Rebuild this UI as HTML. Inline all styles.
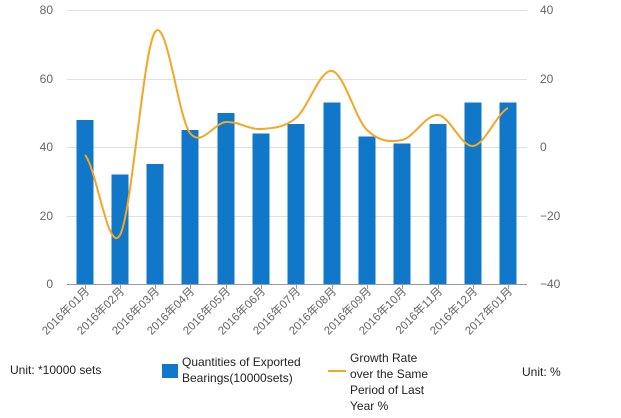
<!DOCTYPE html>
<html><head><meta charset="utf-8"><style>
html,body{margin:0;padding:0;background:#fff;}
svg{display:block;font-family:"Liberation Sans","Noto Sans CJK SC",sans-serif;}
</style></head><body>
<svg width="621" height="418" viewBox="0 0 621 418" xmlns="http://www.w3.org/2000/svg">
<g stroke="#e0e0e0" stroke-width="1">
<line x1="67" y1="10.5" x2="527" y2="10.5"/>
<line x1="67" y1="79.5" x2="527" y2="79.5"/>
<line x1="67" y1="147.5" x2="527" y2="147.5"/>
<line x1="67" y1="216.5" x2="527" y2="216.5"/>
</g>
<line x1="67" y1="284.5" x2="527" y2="284.5" stroke="#999"/>
<g stroke="#999">
<line x1="85.5" y1="284" x2="85.5" y2="289"/><line x1="120.5" y1="284" x2="120.5" y2="289"/><line x1="155.5" y1="284" x2="155.5" y2="289"/><line x1="190.5" y1="284" x2="190.5" y2="289"/><line x1="226.5" y1="284" x2="226.5" y2="289"/><line x1="261.5" y1="284" x2="261.5" y2="289"/><line x1="296.5" y1="284" x2="296.5" y2="289"/><line x1="332.5" y1="284" x2="332.5" y2="289"/><line x1="367.5" y1="284" x2="367.5" y2="289"/><line x1="402.5" y1="284" x2="402.5" y2="289"/><line x1="438.5" y1="284" x2="438.5" y2="289"/><line x1="473.5" y1="284" x2="473.5" y2="289"/><line x1="508.5" y1="284" x2="508.5" y2="289"/>
</g>
<g font-size="12" fill="#666" text-anchor="end">
<text x="53" y="14">80</text><text x="53" y="83">60</text><text x="53" y="151">40</text><text x="53" y="220">20</text><text x="53" y="288">0</text>
</g>
<g font-size="12" fill="#666">
<text x="540" y="14">40</text><text x="540" y="83">20</text><text x="540" y="151">0</text><text x="540" y="220">−20</text><text x="540" y="288">−40</text>
</g>
<g fill="#1177c8">
<rect x="76.5" y="120" width="17" height="164"/>
<rect x="111.5" y="174.5" width="17" height="109.5"/>
<rect x="146.5" y="164" width="17" height="120"/>
<rect x="181.5" y="130" width="17" height="154"/>
<rect x="217.5" y="113" width="17" height="171"/>
<rect x="252.5" y="133.5" width="17" height="150.5"/>
<rect x="287.5" y="124" width="17" height="160"/>
<rect x="323.5" y="102.5" width="17" height="181.5"/>
<rect x="358.5" y="136.5" width="17" height="147.5"/>
<rect x="393.5" y="143.5" width="17" height="140.5"/>
<rect x="429.5" y="124" width="17" height="160"/>
<rect x="464.5" y="102.5" width="17" height="181.5"/>
<rect x="499.5" y="102.5" width="17" height="181.5"/>
</g>
<path d="M85,155 C96.7,168.3 108.3,255.5 120,235 C131.7,214.5 143.3,49 155,32 C166.7,15 178.3,118 190,133 C201.7,148 214,122.7 226,122 C238,121.3 249.3,129.7 261,129 C272.7,128.3 284.3,127.7 296,118 C308,108.3 320,69 332,71 C344,73 355.3,118.5 367,130 C378.7,141.5 390.3,142.5 402,140 C414,137.5 426,114 438,115 C449.7,116 461.3,147.2 473,146 C484.7,144.8 496.3,114.3 508,108" fill="none" stroke="#f5a623" stroke-width="2"/>
<g font-size="11.5" fill="#666" text-anchor="end">
<text transform="translate(90,292) rotate(-45)">2016年01月</text>
<text transform="translate(125,292) rotate(-45)">2016年02月</text>
<text transform="translate(160,292) rotate(-45)">2016年03月</text>
<text transform="translate(195,292) rotate(-45)">2016年04月</text>
<text transform="translate(231,292) rotate(-45)">2016年05月</text>
<text transform="translate(266,292) rotate(-45)">2016年06月</text>
<text transform="translate(301,292) rotate(-45)">2016年07月</text>
<text transform="translate(337,292) rotate(-45)">2016年08月</text>
<text transform="translate(372,292) rotate(-45)">2016年09月</text>
<text transform="translate(407,292) rotate(-45)">2016年10月</text>
<text transform="translate(443,292) rotate(-45)">2016年11月</text>
<text transform="translate(478,292) rotate(-45)">2016年12月</text>
<text transform="translate(513,292) rotate(-45)">2017年01月</text>
</g>
<g font-size="12" fill="#222">
<text x="10" y="374">Unit: *10000 sets</text>
<rect x="162" y="364" width="16" height="14" fill="#1177c8"/>
<text x="182" y="366">Quantities of Exported</text>
<text x="182" y="382">Bearings(10000sets)</text>
<line x1="328" y1="371" x2="346" y2="371" stroke="#f5a623" stroke-width="2"/>
<text x="350" y="362">Growth Rate</text>
<text x="350" y="378">over the Same</text>
<text x="350" y="394">Period of Last</text>
<text x="350" y="410">Year %</text>
<text x="522" y="376">Unit: %</text>
</g>
</svg>
</body></html>
